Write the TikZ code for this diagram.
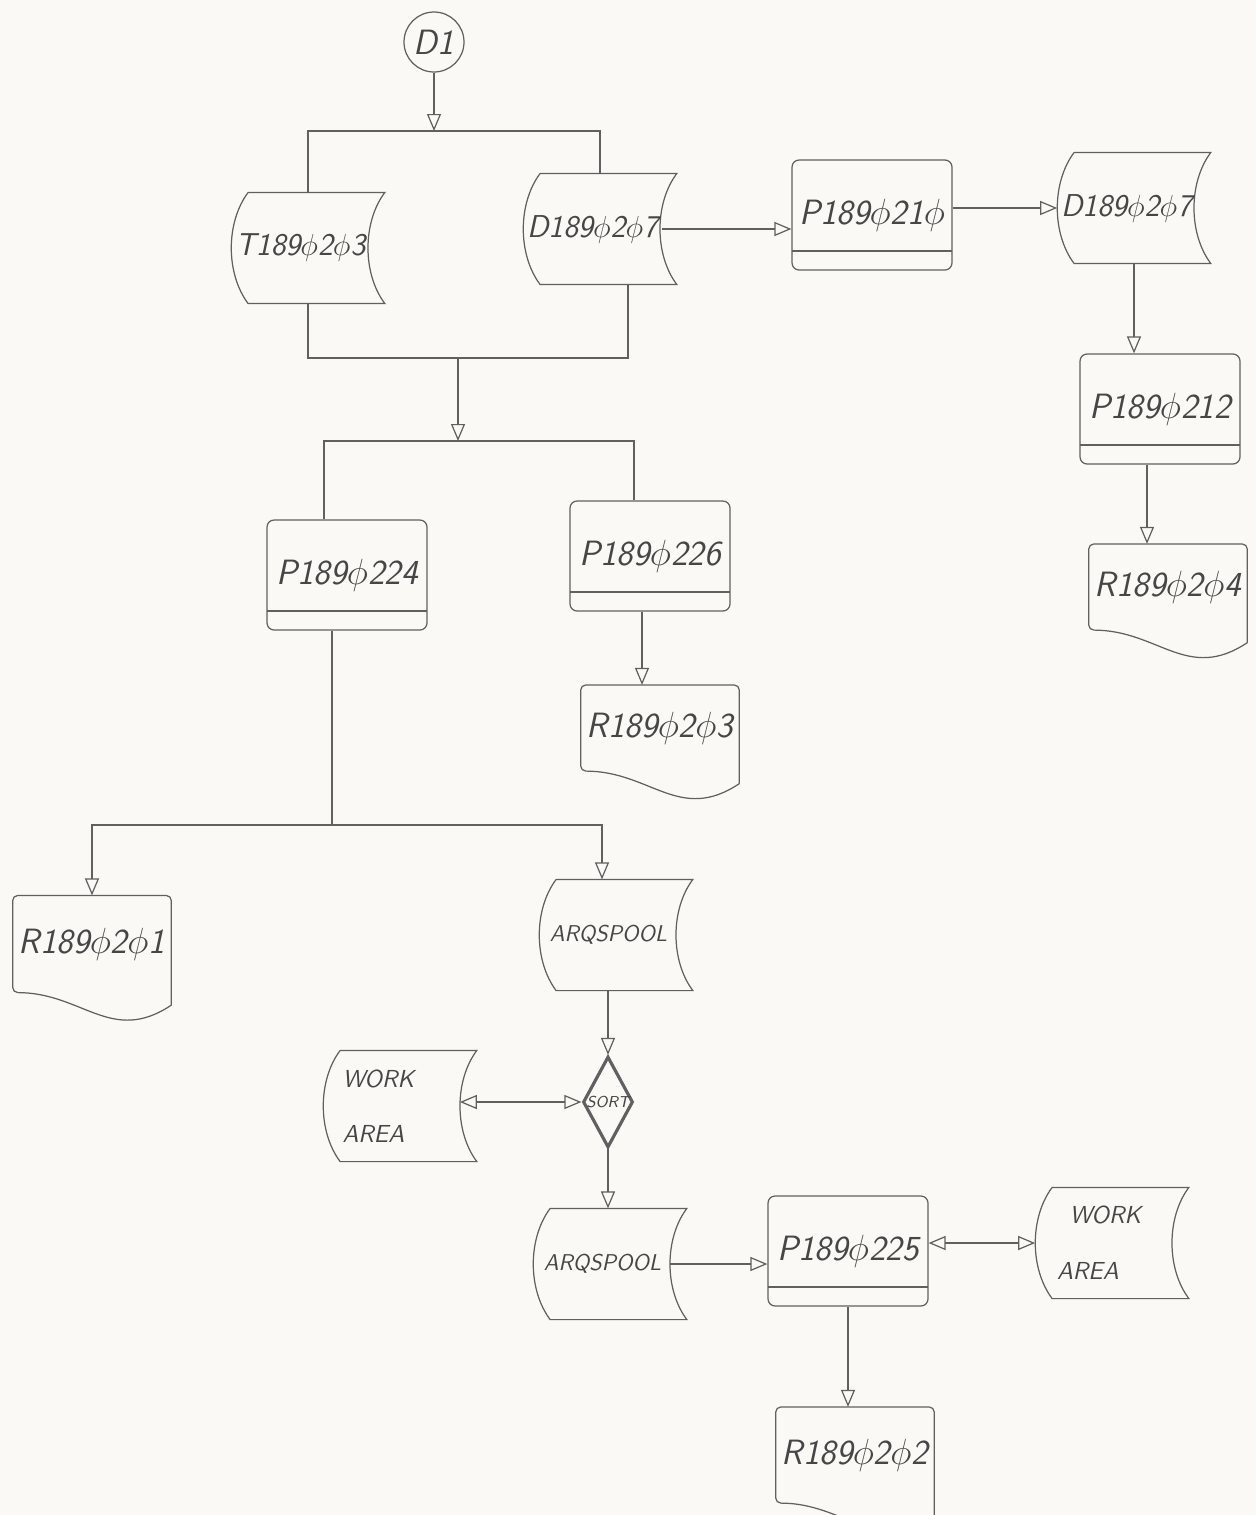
\documentclass[tikz,border=0pt]{standalone}
\usepackage[dvipsnames]{xcolor}
\usetikzlibrary{arrows.meta,shapes.geometric}
\definecolor{pencil}{RGB}{96,96,96}
\definecolor{ink}{RGB}{70,70,70}
\definecolor{paper}{RGB}{250,249,246}
\newcommand{\zr}{\ensuremath{\phi}}

\begin{document}
\begin{tikzpicture}[x=0.02cm,y=-0.02cm,line width=0.7pt,color=pencil,
  >={Triangle[open,length=0.34cm,width=0.28cm]},
  lbl/.style={text=ink,font=\sffamily\slshape\fontsize{20}{24}\selectfont},
  conn/.style={lbl,circle,draw,minimum size=1.2cm,inner sep=0pt},
  proc/.style={lbl,draw,rounded corners=4pt,minimum width=3.2cm,minimum height=2.2cm,inner sep=2pt,
    path picture={\draw ([yshift=0.38cm]path picture bounding box.south west) -- ([yshift=0.38cm]path picture bounding box.south east);}},
  storeline/.style={minimum width=3.05cm,minimum height=2.2cm,inner sep=2pt,
    append after command={\pgfextra{\draw
      ([xshift=0.34cm]\tikzlastnode.north west) -- (\tikzlastnode.north east)
      .. controls +(-0.45cm,-0.6cm) and +(-0.45cm,0.6cm) .. (\tikzlastnode.south east)
      -- ([xshift=0.34cm]\tikzlastnode.south west)
      .. controls +(-0.45cm,0.6cm) and +(-0.45cm,-0.6cm) .. ([xshift=0.34cm]\tikzlastnode.north west);}}},
  store/.style={storeline,lbl,font=\sffamily\slshape\fontsize{18}{22}\selectfont,
    execute at begin node={\hspace*{-0.3cm}}},
  area/.style={storeline,lbl,font=\sffamily\slshape\fontsize{14}{16}\selectfont,align=left},
  doc/.style={lbl,minimum width=3.15cm,minimum height=1.7cm,inner sep=2pt,
    append after command={\pgfextra{\draw[rounded corners=3pt]
      ([yshift=-0.25cm]\tikzlastnode.south east) -- (\tikzlastnode.north east)
      -- (\tikzlastnode.north west) -- (\tikzlastnode.south west) [sharp corners]
      .. controls +(1.4cm,0cm) and +(-1.2cm,-0.8cm) .. ([yshift=-0.25cm]\tikzlastnode.south east);}}},
  sortbox/.style={diamond,draw,line width=1.8pt,minimum width=1cm,minimum height=1.82cm,
    inner sep=0pt,shape aspect=0.55,text=ink,font=\sffamily\slshape\fontsize{9}{10}\selectfont},
  small/.style={font=\sffamily\slshape\fontsize{13}{16}\selectfont}]

  \path[use as bounding box,fill=paper] (0,0) rectangle (1256,1515);

  % upper part
  \node[conn] (d1) at (434,42) {D1};
  \node[store] (t203) at (308,248) {T189\zr2\zr3};
  \node[store] (d207a) at (600,229) {D189\zr2\zr7};
  \node[proc] (p210) at (872,215) {P189\zr21\zr};
  \node[store] (d207b) at (1134,208) {D189\zr2\zr7};
  \node[proc] (p212) at (1160,409) {P189\zr212};
  \node[doc] (r204) at (1168,587) {R189\zr2\zr4};

  % middle part
  \node[proc] (p224) at (347,575) {P189\zr224};
  \node[proc] (p226) at (650,556) {P189\zr226};
  \node[doc] (r203) at (660,728) {R189\zr2\zr3};
  \node[doc,minimum height=1.92cm] (r201) at (92,944) {R189\zr2\zr1};
  \node[store,small] (spool1) at (616,935) {ARQSPOOL};

  % sort and lower part
  \node[sortbox] (sort) at (608,1102) {SORT};
  \node[area,text width=2.3cm] (work1) at (400,1106) {WORK\\[0.54cm]AREA};
  \node[store,small] (spool2) at (610,1264) {ARQSPOOL};
  \node[proc] (p225) at (848,1251) {P189\zr225};
  \node[area,text width=2.2cm] (work2) at (1112,1243) {\hspace*{0.25cm}WORK\\[0.56cm]AREA};
  \node[doc,minimum height=1.9cm] (r202) at (855,1455) {R189\zr2\zr2};

  \coordinate (j0) at (434,131);
  \coordinate (j1) at (458,358);
  \coordinate (j1r) at (628,358);
  \coordinate (j2) at (458,441);
  \coordinate (j2l) at (324,441);
  \coordinate (j2r) at (634,441);
  \coordinate (j3) at (332,825);
  \coordinate (j3r) at (602,825);
  \coordinate (d7e) at ([xshift=-0.3cm]d207a.east);
  \coordinate (a212) at ([xshift=-0.26cm]p212.south);
  \coordinate (a226) at ([xshift=-0.16cm]p226.south);
  \coordinate (w1e) at ([xshift=-0.34cm]work1.east);
  \coordinate (s2e) at ([xshift=-0.34cm]spool2.east);

  \draw[->] (d1) -- (j0);
  \draw (t203.north) |- (j0) -| (d207a.north);
  \draw (t203.south) |- (j1) -- (j1r) -- (d207a.south -| j1r);
  \draw[->] (j1) -- (j2);
  \draw (j2l |- p224.north) -- (j2l) -- (j2r) -- (j2r |- p226.north);
  \draw[->] (d7e) -- (p210.west |- d7e);
  \draw[->] (p210.east |- d207b.west) -- (d207b.west);
  \draw[->] (d207b.south) -- (d207b.south |- p212.north);
  \draw[->] (a212) -- (a212 |- r204.north);
  \draw[->] (a226) -- (a226 |- r203.north);
  \draw (p224.south -| j3) -- (j3);
  \draw[->] (j3) -| (r201.north);
  \draw[->] (j3) -- (j3r) -- (j3r |- spool1.north);
  \draw[->] (spool1.south -| sort.north) -- (sort.north);
  \draw[<->] (w1e |- sort.west) -- (sort.west);
  \draw[->] (sort.south) -- (sort.south |- spool2.north);
  \draw[->] (s2e) -- (s2e -| p225.west);
  \draw[<->] (p225.east |- work2.west) -- (work2.west);
  \draw[->] (p225.south) -- (p225.south |- r202.north);
\end{tikzpicture}
\end{document}
